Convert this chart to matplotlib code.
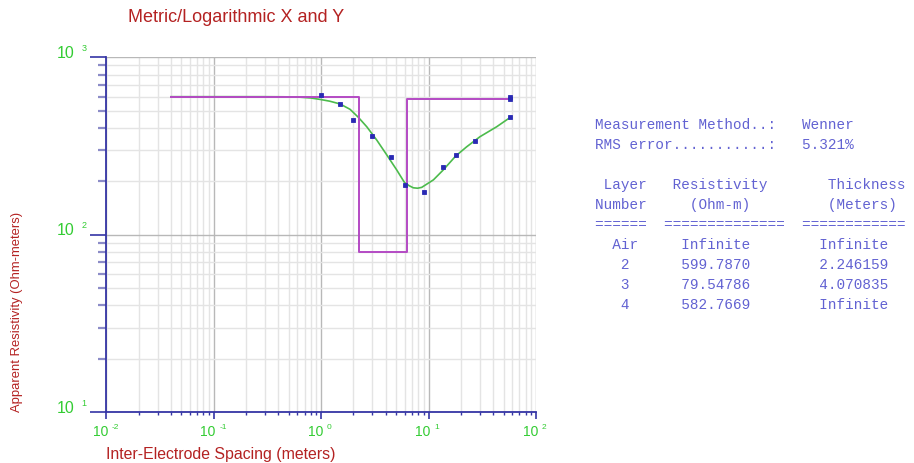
import matplotlib
matplotlib.use("Agg")
import matplotlib.pyplot as plt
from matplotlib.ticker import LogLocator, NullFormatter
import numpy as np

# Field measurements (Wenner array)
spacing_m = [1.0, 1.5, 2.0, 3.0, 4.5, 6.0, 9.0, 13.5, 18.0, 27.0, 57.0, 57.0, 57.0]
rho_obs = [616, 548, 444, 360, 274, 190, 175, 240, 282, 337, 598, 582, 459]

# Computed apparent resistivity of the fitted model
fit_x = [0.04, 0.289, 0.45, 0.638, 0.80, 0.979, 1.20, 1.50, 1.86, 2.22, 2.66,
         3.29, 4.08, 5.05, 5.97, 6.6, 7.21, 7.9, 8.63, 11.1, 13.7, 17.9, 22.6,
         30.1, 43.0, 57.1]
fit_y = [600, 600, 599, 596, 590, 579, 566, 546, 509, 459, 406,
         342, 282, 232, 197, 189, 184, 183, 185, 204, 232, 278, 313,
         357, 406, 457]

# Layered earth model
layer_names = ["Air", "2", "3", "4"]
layer_rho = [599.7870, 79.54786, 582.7669]
layer_thick = [2.246159, 4.070835]
model_range = [0.04, 57.0]

method = "Wenner"
rms_error = "5.321%"

x_ticks = [1e-2, 1e-1, 1e0, 1e1, 1e2]
x_exps = ["-2", "-1", "0", "1", "2"]
y_ticks = [1e1, 1e2, 1e3]
y_exps = ["1", "2", "3"]

W, H = 914, 463
fig = plt.figure(figsize=(W / 100, H / 100), dpi=100)
ax = fig.add_axes([106.3 / W, 1 - 412.3 / H, (536 - 106.3) / W, (412.3 - 57.3) / H])
ax.set_xscale("log")
ax.set_yscale("log")
ax.set_xlim(1e-2, 1e2)
ax.set_ylim(1e1, 1e3)

# grid
ax.xaxis.set_major_locator(LogLocator(base=10, numticks=10))
ax.xaxis.set_minor_locator(LogLocator(base=10, subs=np.arange(2, 10), numticks=20))
ax.yaxis.set_major_locator(LogLocator(base=10, numticks=10))
ax.yaxis.set_minor_locator(LogLocator(base=10, subs=np.arange(2, 10), numticks=20))
for a in (ax.xaxis, ax.yaxis):
    a.set_major_formatter(NullFormatter())
    a.set_minor_formatter(NullFormatter())
ax.grid(which="major", color="#b8b8b8", lw=1.0)
ax.grid(which="minor", color="#e4e4e4", lw=1.0)
ax.set_axisbelow(True)

spine_c = "#3535a5"
for s in ("top", "right"):
    ax.spines[s].set_visible(False)
for s in ("left", "bottom"):
    ax.spines[s].set_color(spine_c)
    ax.spines[s].set_linewidth(1.3)

ax.tick_params(axis="x", which="major", direction="out", length=5, width=1.2, color=spine_c)
ax.tick_params(axis="x", which="minor", direction="out", length=2.5, width=1.0, color=spine_c)
ax.tick_params(axis="y", which="major", direction="out", length=11.5, width=1.2, color=spine_c)
ax.tick_params(axis="y", which="minor", direction="out", length=5.8, width=1.6, color="#8c8cc8")

# fitted curve
ax.plot(fit_x, fit_y, color="#4cbb4c", lw=1.2, zorder=3)

# model step line
depths = np.cumsum(layer_thick)
mx = [model_range[0], depths[0], depths[0], depths[1], depths[1], model_range[1]]
my = [layer_rho[0], layer_rho[0], layer_rho[1], layer_rho[1], layer_rho[2], layer_rho[2]]
ax.plot(mx, my, color="#b44ac4", lw=1.4, zorder=4)

# observations
ax.plot(spacing_m, rho_obs, ls="none", marker="s", ms=3.2, mfc="#2a2ab4",
        mec="#2a2ab4", mew=0.6, zorder=5)

# tick labels drawn as "10" plus a small raised exponent
lab_c = "#33cc33"
for v, e in zip(x_ticks, x_exps):
    ax.annotate("10", xy=(v, 0), xycoords=("data", "axes fraction"),
                xytext=(2.0, -19.4), textcoords="offset pixels",
                ha="right", va="center", fontsize=10, color=lab_c,
                family="Liberation Sans", annotation_clip=False)
    ax.annotate(e, xy=(v, 0), xycoords=("data", "axes fraction"),
                xytext=(5.5, -15.5), textcoords="offset pixels",
                ha="left", va="center", fontsize=6, color=lab_c,
                family="Liberation Sans", annotation_clip=False)
for v, e in zip(y_ticks, y_exps):
    ax.annotate("10", xy=(0, v), xycoords=("axes fraction", "data"),
                xytext=(-31.3, 4.0), textcoords="offset pixels",
                ha="right", va="center", fontsize=11.5, color=lab_c,
                family="Liberation Sans", annotation_clip=False)
    ax.annotate(e, xy=(0, v), xycoords=("axes fraction", "data"),
                xytext=(-25.0, 9.0), textcoords="offset pixels",
                ha="left", va="center", fontsize=6.5, color=lab_c,
                family="Liberation Sans", annotation_clip=False)

red = "#b42222"
fig.text(128 / W, 1 - 18 / H, "Metric/Logarithmic X and Y", color=red,
         fontsize=13, family="Liberation Sans", ha="left", va="center")
fig.text(106.5 / W, 1 - 455 / H, "Inter-Electrode Spacing (meters)", color=red,
         fontsize=11.4, family="Liberation Sans", ha="left", va="center")
fig.text(17.3 / W, 1 - 412 / H, "Apparent Resistivity (Ohm-meters)", color=red,
         fontsize=9.4, family="Liberation Sans", ha="center", va="bottom",
         rotation=90)

# results table in fixed-width columns
rows = [
    f"Measurement Method..:   {method}",
    f"RMS error...........:   {rms_error}",
    "",
    " Layer   Resistivity       Thickness",
    "Number     (Ohm-m)         (Meters)",
    "======  ==============  ============",
]
rho_txt = ["Infinite"] + [f"{r:.7g}" if r < 100 else f"{r:.4f}" for r in layer_rho]
th_txt = ["Infinite"] + [f"{t:.6f}" for t in layer_thick] + ["Infinite"]
for name, r, t in zip(layer_names, rho_txt, th_txt):
    name_col = f"{name:^7}" if name == "Air" else f"   {name}   "
    rows.append(f"{name_col:<10}{r:<16}{t}")

tbl_c = "#6262d2"
y0 = 125
for i, line in enumerate(rows):
    if line:
        fig.text(595 / W, 1 - (y0 + i * 19.95) / H, line, color=tbl_c,
                 fontsize=10.4, family="Liberation Mono", ha="left", va="center")

fig.savefig("out.png", dpi=100)
